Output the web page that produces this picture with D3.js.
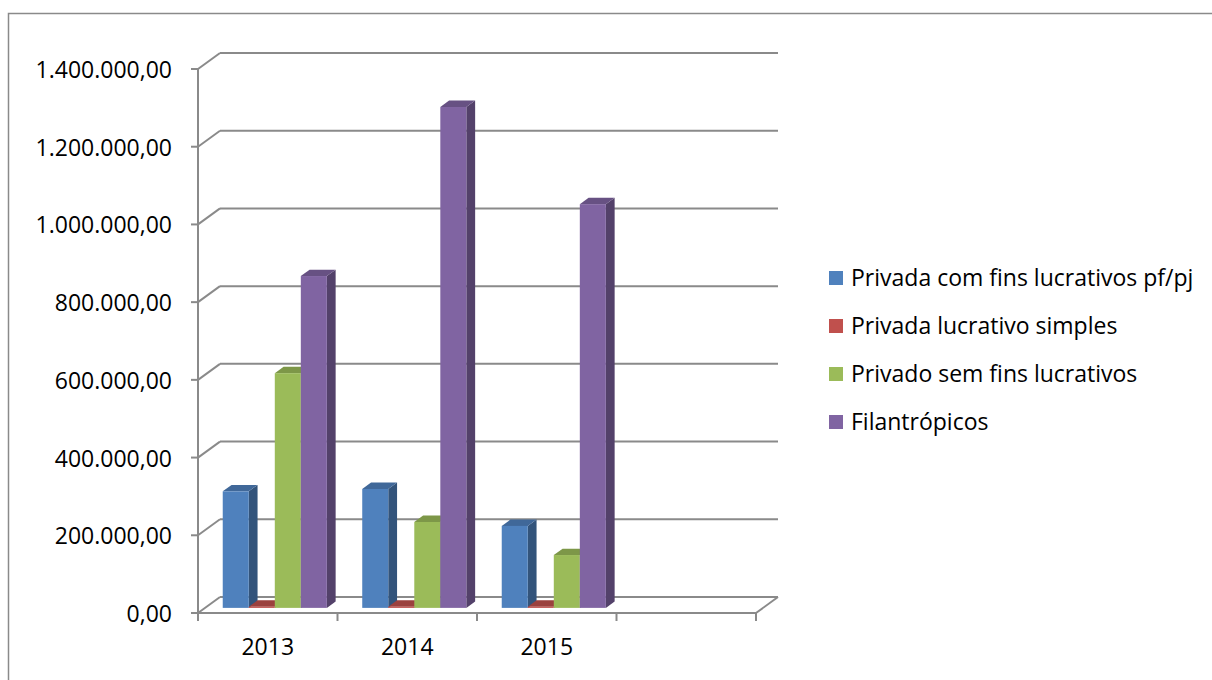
<!DOCTYPE html>
<html>
<head>
<meta charset="utf-8">
<script src="https://cdn.jsdelivr.net/npm/d3@7"></script>
<style>
  body { margin: 0; background: #fff; }
  svg text { font-family: "Open Sans", "Noto Sans", sans-serif; fill: #000; }
</style>
</head>
<body>
<div id="chart"></div>
<script>
// Data
const years = ["2013", "2014", "2015", ""];
const seriesNames = ["Privada com fins lucrativos pf/pj", "Privada lucrativo simples", "Privado sem fins lucrativos", "Filantrópicos"];
const privadaComFins = [300000, 306000, 211000];
const privadaSimples = [3000, 3000, 3000];
const privadoSemFins = [604000, 221000, 136000];
const filantropicos = [854000, 1289000, 1039000];
const seriesColors = ["#4F81BD", "#C0504D", "#9BBB59", "#8064A2"];
const yTicks = [0, 200000, 400000, 600000, 800000, 1000000, 1200000, 1400000];

const seriesValues = [privadaComFins, privadaSimples, privadoSemFins, filantropicos];

const width = 1212, height = 680;
const svg = d3.select("#chart").append("svg")
    .attr("width", width).attr("height", height);

// outer chart border
svg.append("rect")
    .attr("x", 8.5).attr("y", 13.5)
    .attr("width", 1240).attr("height", 700)
    .attr("fill", "none").attr("stroke", "#8a8a8a").attr("stroke-width", 1.5);

// 3D projection: depth offset of the back wall
const DX = 22, DY = -16;
const dFront = 0.32, dBack = 0.72;

const x0 = d3.scaleBand().domain(years).range([198, 756]);
const x1 = d3.scaleBand().domain(seriesNames).range([0, x0.bandwidth()]).paddingOuter(0.68);
const y = d3.scaleLinear().domain([0, 1400000]).range([613, 69]);

const fmt = d3.formatLocale({ decimal: ",", thousands: ".", grouping: [3], currency: ["", ""] }).format(",.2f");

const fontSize = 23;
const gridColor = "#8a8a8a";
const grid = svg.append("g").attr("stroke", gridColor).attr("stroke-width", 2).attr("fill", "none");

// back wall gridlines + left wall diagonals
yTicks.forEach(v => {
    grid.append("line")
        .attr("x1", 198 + DX).attr("y1", y(v) + DY)
        .attr("x2", 756 + DX).attr("y2", y(v) + DY);
    grid.append("line")
        .attr("x1", 198).attr("y1", y(v))
        .attr("x2", 198 + DX).attr("y2", y(v) + DY);
    // small tick on value axis
    grid.append("line")
        .attr("x1", 191).attr("y1", y(v))
        .attr("x2", 198).attr("y2", y(v));
});

// floor front edge and right edge
grid.append("line").attr("x1", 198).attr("y1", y(0)).attr("x2", 756).attr("y2", y(0));
grid.append("line").attr("x1", 756).attr("y1", y(0)).attr("x2", 756 + DX).attr("y2", y(0) + DY);
// value axis line
grid.append("line").attr("x1", 198).attr("y1", y(1400000)).attr("x2", 198).attr("y2", y(0));

// category ticks
const catEdges = years.map(d => x0(d)).concat([x0.range()[1]]);
catEdges.forEach(xx => {
    grid.append("line").attr("x1", xx).attr("y1", y(0)).attr("x2", xx).attr("y2", y(0) + 8);
});

// value labels
svg.append("g").selectAll("text").data(yTicks).join("text")
    .attr("x", 172).attr("y", d => y(d) + 9)
    .attr("text-anchor", "end").attr("font-size", fontSize)
    .text(d => fmt(d));

// category labels
svg.append("g").selectAll("text").data(years).join("text")
    .attr("x", d => x0(d) + x0.bandwidth() / 2).attr("y", 655)
    .attr("text-anchor", "middle").attr("font-size", fontSize)
    .text(d => d);

// bars, drawn left to right so later front faces hide earlier side faces
const bars = svg.append("g");
const fx = DX * dFront, fy = DY * dFront;
const ddx = DX * (dBack - dFront), ddy = DY * (dBack - dFront);
const bw = x1.bandwidth();

years.forEach((yr, i) => {
    seriesNames.forEach((name, s) => {
        const v = seriesValues[s][i];
        if (v === undefined) return;
        const c = seriesColors[s];
        const left = x0(yr) + x1(name) + fx;
        const right = left + bw;
        const top = y(v) + fy;
        const base = y(0) + fy;
        // side face
        bars.append("path")
            .attr("d", `M${right},${base}L${right + ddx},${base + ddy}L${right + ddx},${top + ddy}L${right},${top}Z`)
            .attr("fill", d3.color(c).darker(1.2));
        // top face
        bars.append("path")
            .attr("d", `M${left},${top}L${left + ddx},${top + ddy}L${right + ddx},${top + ddy}L${right},${top}Z`)
            .attr("fill", d3.color(c).darker(0.6));
        // front face
        bars.append("rect")
            .attr("x", left).attr("y", top)
            .attr("width", bw).attr("height", base - top)
            .attr("fill", c);
    });
});

// legend
const legend = svg.append("g").selectAll("g").data(seriesNames).join("g")
    .attr("transform", (d, i) => `translate(829, ${278 + i * 48})`);
legend.append("rect")
    .attr("x", 0).attr("y", -7).attr("width", 14).attr("height", 14)
    .attr("fill", (d, i) => seriesColors[i]);
legend.append("text")
    .attr("x", 22).attr("y", 8).attr("font-size", fontSize)
    .text(d => d);
</script>
</body>
</html>
